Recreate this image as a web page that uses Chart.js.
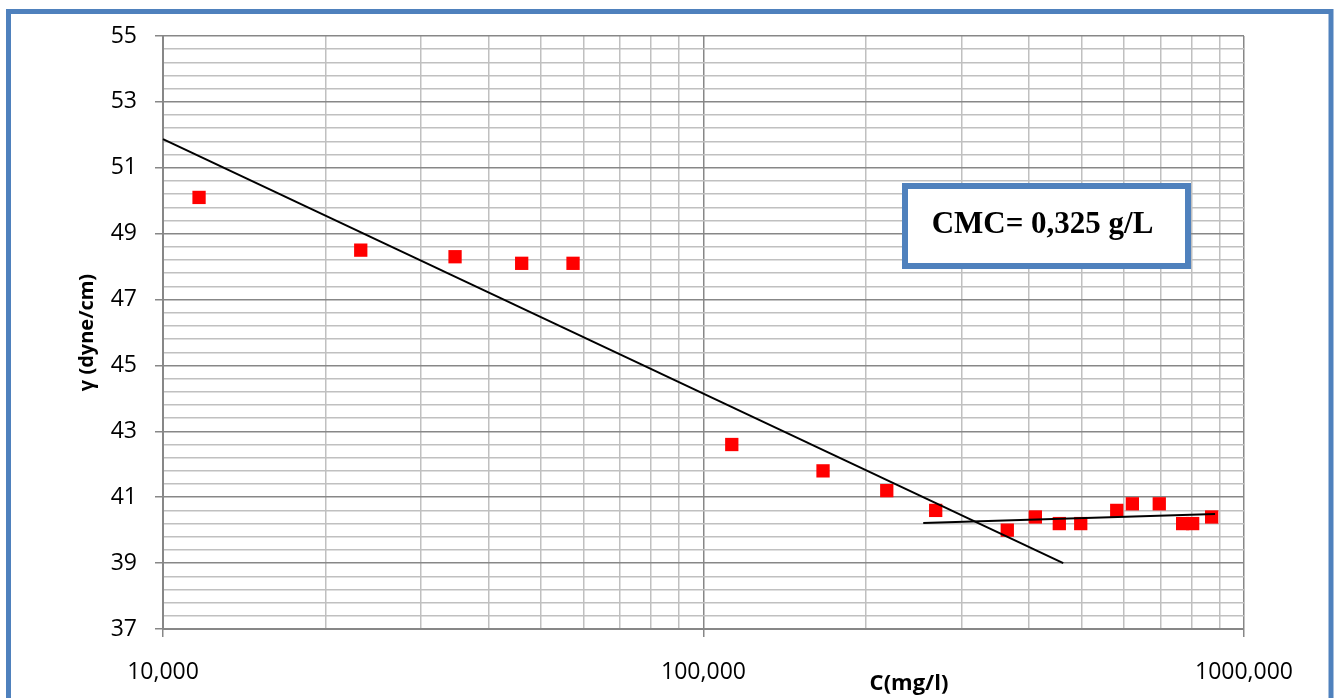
<!DOCTYPE html>
<html>
<head>
<meta charset="utf-8">
<style>
  html, body { margin: 0; padding: 0; background: #ffffff; }
  #wrap { width: 1338px; height: 698px; }
</style>
<script src="https://cdn.jsdelivr.net/npm/chart.js@4.4.1/dist/chart.umd.min.js"></script>
</head>
<body>
<div id="wrap"><canvas id="chart" width="1338" height="698"></canvas></div>
<script>
// Surface tension vs. concentration measurements
const concentration = [11660, 23220, 34700, 46090, 57360, 112800, 166400, 218300, 268900,
  364800, 411100, 455300, 498800, 581500, 621500, 697000, 770000, 803500, 871300];
const surfaceTension = [50.1, 48.5, 48.3, 48.1, 48.1, 42.6, 41.8, 41.2, 40.6,
  40.0, 40.4, 40.2, 40.2, 40.6, 40.8, 40.8, 40.2, 40.2, 40.4];

// Two fitted lines whose intersection gives the CMC
const steepFitX = [10000, 463000];
const steepFitY = [51.87, 39.0];
const plateauFitX = [255000, 884000];
const plateauFitY = [40.22, 40.49];

// Axis tick labels
const xDecades = [10000, 100000, 1000000];
const xDecadeLabels = ['10,000', '100,000', '1000,000'];
const yMajor = [37, 39, 41, 43, 45, 47, 49, 51, 53, 55];
const yMajorLabels = ['37', '39', '41', '43', '45', '47', '49', '51', '53', '55'];

const cmcText = 'CMC= 0,325 g/L';
const xTitle = 'C(mg/l)';
const yTitle = 'γ (dyne/cm)';

const toPoints = (xs, ys) => xs.map((x, i) => ({ x, y: ys[i] }));

// Grid positions: log minors 1..9 per decade, 0.4 steps vertically
const xGrid = [];
for (let d = 10000; d < 1000000; d *= 10) {
  for (let m = 1; m <= 9; m++) xGrid.push(d * m);
}
xGrid.push(1000000);
const yGrid = [];
for (let i = 0; i <= 45; i++) yGrid.push(Math.round((37 + 0.4 * i) * 10) / 10);

const MAJOR = '#878787';
const MINOR = '#c0c0c0';
const BLUE = '#4f81bd';

const isXMajor = v => xDecades.includes(v);
const isYMajor = v => yMajor.includes(v);

const framePlugin = {
  id: 'frame',
  beforeDraw(chart) {
    const { ctx, width, height } = chart;
    ctx.save();
    ctx.fillStyle = '#ffffff';
    ctx.fillRect(0, 0, width, height);
    ctx.strokeStyle = BLUE;
    ctx.lineWidth = 5;
    ctx.strokeRect(8.5, 11.5, 1322.5, height + 40);
    ctx.restore();
  },
  afterDraw(chart) {
    const { ctx, chartArea: a } = chart;
    ctx.save();
    // x axis title
    ctx.fillStyle = '#000000';
    ctx.font = 'bold 22px "Open Sans"';
    ctx.textAlign = 'center';
    ctx.textBaseline = 'middle';
    ctx.fillText(xTitle, a.left + 746, a.bottom + 55);
    // CMC annotation box
    const bx = a.left + 742, by = a.top + 150, bw = 283, bh = 80;
    ctx.fillStyle = '#ffffff';
    ctx.fillRect(bx, by, bw, bh);
    ctx.strokeStyle = BLUE;
    ctx.lineWidth = 6;
    ctx.strokeRect(bx, by, bw, bh);
    ctx.fillStyle = '#000000';
    ctx.font = 'bold 31px "Liberation Serif"';
    ctx.textBaseline = 'alphabetic';
    ctx.fillText(cmcText, bx + bw / 2 - 4, by + 47);
    ctx.restore();
  }
};

new Chart(document.getElementById('chart'), {
  type: 'scatter',
  data: {
    datasets: [
      {
        label: 'fit 1',
        data: toPoints(steepFitX, steepFitY),
        showLine: true,
        borderColor: '#000000',
        borderWidth: 2,
        pointRadius: 0,
        order: 0
      },
      {
        label: 'fit 2',
        data: toPoints(plateauFitX, plateauFitY),
        showLine: true,
        borderColor: '#000000',
        borderWidth: 2,
        pointRadius: 0,
        order: 0
      },
      {
        label: 'γ',
        data: toPoints(concentration, surfaceTension),
        pointStyle: 'rect',
        pointRadius: 9.4,
        pointHoverRadius: 9.4,
        backgroundColor: '#ff0000',
        borderWidth: 0,
        order: 1
      }
    ]
  },
  options: {
    responsive: false,
    animation: false,
    events: [],
    clip: false,
    layout: { padding: { top: 36, right: 94, left: 0, bottom: 0 } },
    plugins: { legend: { display: false }, tooltip: { enabled: false } },
    scales: {
      x: {
        type: 'logarithmic',
        min: 10000,
        max: 1000000,
        afterBuildTicks: axis => { axis.ticks = xGrid.map(v => ({ value: v })); },
        afterFit: axis => { axis.height = 69; },
        ticks: {
          autoSkip: false,
          maxRotation: 0,
          padding: 22,
          color: '#000000',
          font: { family: '"Open Sans"', size: 23 },
          callback: v => {
            const i = xDecades.indexOf(v);
            return i >= 0 ? xDecadeLabels[i] : '';
          }
        },
        grid: {
          color: c => (c.tick && isXMajor(c.tick.value)) ? MAJOR : MINOR,
          tickColor: c => (c.tick && isXMajor(c.tick.value)) ? MAJOR : 'rgba(0,0,0,0)',
          lineWidth: 1.5,
          tickLength: 8
        },
        border: { color: MAJOR, width: 2 }
      },
      y: {
        type: 'linear',
        min: 37,
        max: 55,
        afterBuildTicks: axis => { axis.ticks = yGrid.map(v => ({ value: v })); },
        afterFit: axis => { axis.width = 163; },
        ticks: {
          autoSkip: false,
          padding: 18,
          color: '#000000',
          font: { family: '"Open Sans"', size: 23 },
          callback: v => {
            const i = yMajor.indexOf(v);
            return i >= 0 ? yMajorLabels[i] : '';
          }
        },
        grid: {
          color: c => (c.tick && isYMajor(c.tick.value)) ? MAJOR : MINOR,
          tickColor: c => (c.tick && isYMajor(c.tick.value)) ? MAJOR : 'rgba(0,0,0,0)',
          lineWidth: 1.5,
          tickLength: 8
        },
        border: { color: MAJOR, width: 2 },
        title: {
          display: true,
          text: yTitle,
          color: '#000000',
          font: { family: '"Open Sans"', size: 20, weight: 'bold' },
          padding: { top: 75, bottom: 0 }
        }
      }
    }
  },
  plugins: [framePlugin]
});
</script>
</body>
</html>
